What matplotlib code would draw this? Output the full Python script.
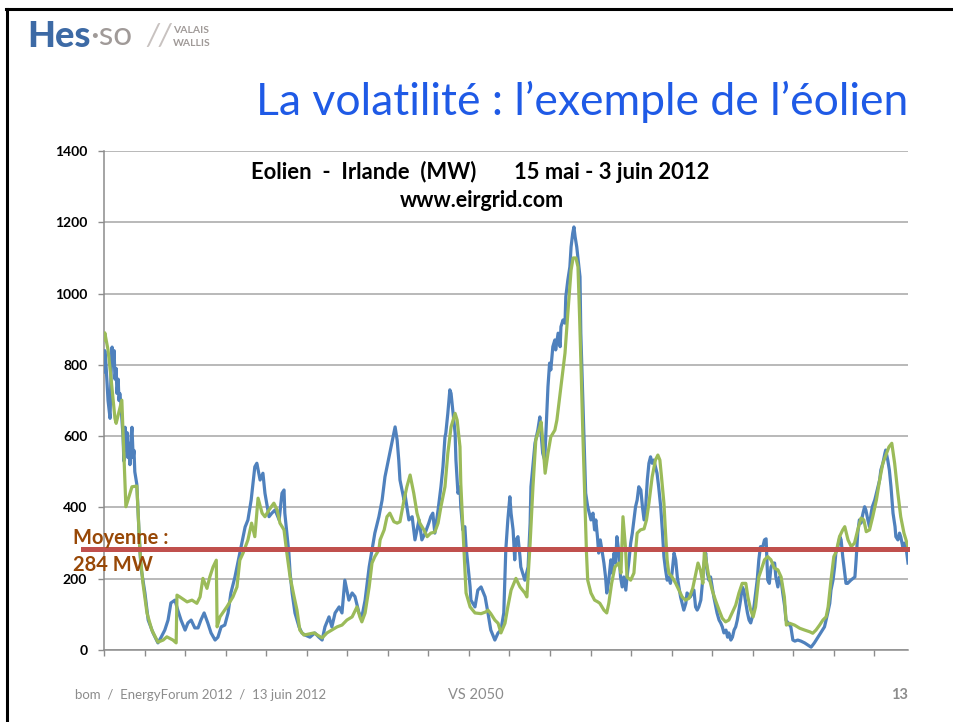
import matplotlib
matplotlib.use("Agg")
import matplotlib.pyplot as plt
from matplotlib.lines import Line2D

plt.rcParams['font.family'] = ['Lato', 'DejaVu Sans']

# production eolienne irlandaise (MW), jours depuis le 15 mai 2012
blue_day = [0.00, 0.02, 0.05, 0.10, 0.15, 0.17, 0.20, 0.22, 0.25, 0.27, 0.30, 0.32, 0.35, 0.37,
            0.39, 0.42, 0.44, 0.47, 0.49, 0.52, 0.54, 0.57, 0.59, 0.62, 0.64, 0.67, 0.69, 0.72,
            0.74, 0.76, 0.81, 0.86, 0.91, 1.01, 1.09, 1.21, 1.33, 1.41, 1.50, 1.58, 1.65, 1.75,
            1.82, 1.90, 2.00, 2.07, 2.15, 2.24, 2.32, 2.39, 2.47, 2.56, 2.64, 2.74, 2.81, 2.89,
            2.98, 3.06, 3.13, 3.23, 3.30, 3.38, 3.48, 3.55, 3.63, 3.72, 3.77, 3.85, 3.92, 3.97,
            4.07, 4.14, 4.22, 4.32, 4.39, 4.44, 4.46, 4.51, 4.56, 4.59, 4.64, 4.71, 4.81, 4.88,
            4.96, 5.08, 5.20, 5.30, 5.38, 5.45, 5.55, 5.62, 5.70, 5.80, 5.87, 5.94, 6.04, 6.12,
            6.19, 6.29, 6.36, 6.44, 6.54, 6.61, 6.68, 6.78, 6.86, 6.93, 7.03, 7.10, 7.18, 7.23,
            7.27, 7.30, 7.40, 7.42, 7.52, 7.60, 7.67, 7.77, 7.84, 7.92, 8.01, 8.06, 8.11, 8.16,
            8.24, 8.31, 8.36, 8.41, 8.43, 8.48, 8.53, 8.56, 8.61, 8.66, 8.68, 8.73, 8.78, 8.80,
            8.85, 8.90, 8.93, 8.98, 9.03, 9.05, 9.15, 9.22, 9.30, 9.40, 9.47, 9.54, 9.64, 9.72,
            9.79, 9.86, 9.91, 9.96, 10.01, 10.04, 10.09, 10.13, 10.16, 10.21, 10.26, 10.28, 10.38,
            10.46, 10.51, 10.53, 10.63, 10.70, 10.75, 10.78, 10.82, 10.87, 10.90, 10.95, 10.99,
            11.02, 11.07, 11.12, 11.14, 11.20, 11.25, 11.27, 11.32, 11.37, 11.39, 11.44, 11.49,
            11.52, 11.56, 11.59, 11.62, 11.66, 11.74, 11.76, 11.81, 11.86, 11.88, 11.93, 12.01,
            12.06, 12.10, 12.13, 12.17, 12.20, 12.24, 12.28, 12.33, 12.37, 12.40, 12.45, 12.50,
            12.53, 12.58, 12.62, 12.65, 12.70, 12.74, 12.78, 12.82, 12.87, 12.90, 12.95, 12.99,
            13.03, 13.07, 13.11, 13.15, 13.19, 13.24, 13.28, 13.32, 13.36, 13.40, 13.44, 13.48,
            13.52, 13.56, 13.60, 13.64, 13.68, 13.73, 13.77, 13.81, 13.85, 13.89, 13.93, 13.97,
            14.01, 14.06, 14.10, 14.14, 14.18, 14.22, 14.26, 14.30, 14.35, 14.38, 14.46, 14.55,
            14.59, 14.63, 14.67, 14.72, 14.75, 14.80, 14.84, 14.88, 14.92, 14.96, 15.00, 15.04,
            15.09, 15.12, 15.17, 15.21, 15.25, 15.29, 15.34, 15.38, 15.41, 15.46, 15.50, 15.54,
            15.58, 15.62, 15.66, 15.70, 15.74, 15.78, 15.83, 15.87, 15.91, 15.95, 15.99, 16.03,
            16.11, 16.15, 16.19, 16.25, 16.29, 16.33, 16.37, 16.41, 16.45, 16.50, 16.54, 16.57,
            16.62, 16.66, 16.70, 16.74, 16.79, 16.82, 16.87, 16.94, 16.99, 17.04, 17.11, 17.19,
            17.28, 17.36, 17.44, 17.48, 17.52, 17.61, 17.68, 17.77, 17.85, 17.90, 17.93, 17.98,
            18.02, 18.05, 18.10, 18.15, 18.18, 18.22, 18.27, 18.30, 18.34, 18.42, 18.52, 18.55,
            18.59, 18.63, 18.67, 18.72, 18.76, 18.79, 18.84, 18.88, 18.92, 18.95, 19.01, 19.09,
            19.13, 19.16, 19.21, 19.26, 19.28, 19.33, 19.37, 19.41, 19.46, 19.51, 19.53, 19.58,
            19.62, 19.65, 19.70, 19.74, 19.78, 19.83]
blue_mw = [780, 840, 800, 700, 650, 760, 850, 800, 840, 760, 790, 720, 760, 700,
           720, 690, 650, 600, 530, 625, 560, 610, 540, 580, 520, 600, 625, 540,
           560, 500, 465, 340, 233, 160, 84, 48, 20, 36, 56, 84, 132, 140,
           112, 84, 56, 76, 84, 62, 62, 84, 104, 76, 48, 28, 36, 65,
           70, 104, 160, 205, 244, 289, 345, 365, 421, 514, 524, 477, 496, 440,
           374, 384, 393, 365, 440, 449, 384, 328, 272, 216, 160, 104, 65, 48,
           42, 36, 48, 36, 28, 65, 93, 65, 104, 121, 104, 196, 140, 160,
           150, 104, 93, 140, 233, 281, 328, 374, 421, 486, 542, 580, 626, 589,
           533, 477, 421, 440, 365, 374, 309, 365, 309, 328, 356, 374, 384, 328,
           393, 458, 514, 598, 608, 664, 730, 720, 664, 608, 533, 440, 458, 402,
           337, 346, 290, 233, 177, 140, 121, 168, 177, 149, 104, 56, 28, 48,
           56, 104, 281, 365, 430, 384, 337, 253, 309, 318, 262, 233, 196,
           233, 356, 458, 580, 617, 654, 608, 552, 533, 608, 739, 805,
           786, 851, 870, 842, 889, 851, 907, 926, 917, 991, 1038, 1075,
           1131, 1169, 1187, 1159, 1131, 1047, 889, 702, 514, 440, 402, 365,
           384, 337, 365, 318, 272, 309, 281, 244, 205, 160, 196, 253,
           216, 272, 244, 318, 272, 205, 177, 205, 168, 205, 253, 300,
           328, 365, 402, 421, 458, 449, 402, 365, 402, 477, 524, 542,
           524, 533, 514, 496, 458, 402, 337, 262, 225, 196, 205, 187,
           216, 272, 253, 205, 177, 149, 131, 112, 131, 160, 149, 168,
           121, 112, 121, 140, 177, 244, 272, 216, 196, 205, 177, 149,
           121, 104, 84, 76, 65, 48, 56, 36, 48, 28, 36, 56,
           65, 84, 112, 140, 177, 168, 131, 104, 84, 76, 93, 121,
           196, 253, 290, 290, 309, 312, 196, 187, 233, 244, 244, 205,
           177, 205, 196, 160, 121, 84, 76, 65, 28, 25, 28, 25,
           20, 14, 8, 14, 20, 36, 48, 65, 104, 131, 168, 196,
           233, 272, 290, 318, 309, 262, 216, 187, 187, 196, 205, 253,
           328, 365, 356, 384, 402, 393, 365, 346, 384, 402, 421, 458,
           477, 505, 524, 552, 561, 533, 505, 458, 384, 346, 318, 309,
           328, 318, 290, 300, 290, 244]

green_day = [0.00, 0.02, 0.10, 0.17, 0.27, 0.30, 0.35, 0.44, 0.54, 0.69, 0.81, 0.89, 0.96, 1.06,
             1.18, 1.33, 1.46, 1.55, 1.70, 1.78, 1.80, 1.87, 2.05, 2.17, 2.29, 2.37, 2.44, 2.54,
             2.61, 2.69, 2.77, 2.79, 2.86, 3.03, 3.18, 3.28, 3.35, 3.43, 3.55, 3.64, 3.72, 3.80,
             3.90, 3.97, 4.07, 4.19, 4.27, 4.34, 4.44, 4.51, 4.59, 4.69, 4.76, 4.83, 4.93, 5.18,
             5.38, 5.50, 5.62, 5.75, 5.87, 5.99, 6.12, 6.24, 6.31, 6.36, 6.44, 6.54, 6.61, 6.68,
             6.78, 6.81, 6.91, 6.98, 7.05, 7.15, 7.23, 7.30, 7.40, 7.47, 7.55, 7.64, 7.72, 7.79,
             7.89, 7.97, 8.06, 8.16, 8.24, 8.31, 8.41, 8.48, 8.56, 8.66, 8.71, 8.78, 8.80, 8.85,
             8.90, 8.93, 9.03, 9.15, 9.30, 9.42, 9.47, 9.54, 9.64, 9.72, 9.79, 9.89, 9.96, 10.04,
             10.16, 10.26, 10.38, 10.43, 10.51, 10.58, 10.65, 10.75, 10.78, 10.82, 10.88, 10.95,
             11.02, 11.12, 11.17, 11.27, 11.37, 11.44, 11.52, 11.57, 11.64, 11.69, 11.73, 11.77,
             11.81, 11.86, 11.90, 11.93, 12.01, 12.10, 12.18, 12.23, 12.33, 12.40, 12.45, 12.52,
             12.60, 12.70, 12.75, 12.80, 12.86, 12.90, 12.99, 13.07, 13.12, 13.15, 13.23, 13.32,
             13.38, 13.44, 13.52, 13.60, 13.66, 13.71, 13.75, 13.81, 13.85, 13.89, 13.93, 14.01,
             14.10, 14.18, 14.26, 14.34, 14.43, 14.52, 14.60, 14.65, 14.71, 14.77, 14.81, 14.86,
             14.92, 15.00, 15.08, 15.17, 15.25, 15.33, 15.41, 15.49, 15.58, 15.66, 15.74, 15.83,
             15.88, 15.95, 16.01, 16.07, 16.15, 16.21, 16.29, 16.37, 16.45, 16.53, 16.62, 16.70,
             16.78, 16.83, 16.91, 17.03, 17.16, 17.28, 17.41, 17.48, 17.56, 17.65, 17.73, 17.81,
             17.86, 17.93, 18.00, 18.06, 18.14, 18.22, 18.27, 18.35, 18.43, 18.51, 18.59, 18.67,
             18.74, 18.80, 18.88, 18.96, 19.05, 19.13, 19.21, 19.30, 19.36, 19.43, 19.50, 19.58,
             19.65, 19.73, 19.83]
green_mw = [870, 890, 842, 767, 650, 636, 659, 701, 402, 458, 460, 272, 188, 104,
            56, 22, 28, 37, 28, 20, 154, 149, 135, 140, 131, 149, 201, 173,
            205, 233, 252, 65, 93, 121, 149, 177, 252, 272, 309, 356, 318, 426,
            384, 374, 393, 412, 393, 356, 337, 272, 205, 149, 112, 56, 42, 48,
            34, 48, 56, 65, 70, 84, 93, 121, 93, 79, 104, 177, 244, 262,
            281, 309, 337, 374, 384, 360, 356, 360, 421, 458, 491, 440, 384, 356,
            337, 318, 328, 331, 356, 402, 458, 552, 626, 664, 645, 570, 468, 346,
            233, 160, 121, 104, 102, 107, 112, 102, 84, 75, 48, 75, 121, 168,
            201, 177, 160, 149, 300, 458, 589, 626, 640, 589, 496, 552,
            598, 617, 645, 739, 833, 945, 1066, 1100, 1100, 1075, 935, 777,
            608, 421, 272, 196, 160, 140, 135, 131, 112, 104, 131, 187,
            233, 244, 216, 374, 290, 205, 196, 216, 290, 328, 337, 340,
            365, 412, 486, 533, 547, 533, 486, 412, 328, 252, 216, 205,
            187, 168, 149, 140, 145, 173, 216, 244, 225, 187, 281, 244,
            205, 168, 140, 112, 89, 79, 84, 104, 126, 160, 187, 187,
            149, 112, 93, 121, 205, 225, 253, 262, 253, 230, 225, 205,
            149, 70, 75, 70, 61, 56, 51, 47, 56, 70, 84, 93,
            121, 196, 262, 276, 318, 337, 346, 309, 290, 300, 337, 370,
            365, 332, 337, 374, 421, 477, 524, 552, 570, 580, 524, 440,
            374, 328, 290]

mean_mw = 284
n_days = 20
y_ticks = [0, 200, 400, 600, 800, 1000, 1200, 1400]

fig = plt.figure(figsize=(9.54, 7.22), dpi=100)
ax = fig.add_axes([0.1090, 0.0997, 0.8428, 0.6911])

ax.plot(blue_day, blue_mw, color='#4F81BD', lw=2.3, solid_joinstyle='round', zorder=3)
ax.plot(green_day, green_mw, color='#9BBB59', lw=2.3, solid_joinstyle='round', zorder=4)
ax.axhline(mean_mw, xmin=-0.026, xmax=0.999, color='#C0504D', lw=3.6, clip_on=False, zorder=5)

ax.set_xlim(0, 19.83)
ax.set_ylim(0, 1400)
ax.set_yticks(y_ticks)
ax.set_yticklabels([str(v) for v in y_ticks], fontsize=10, fontweight='bold')
ax.set_xticks(range(n_days))
ax.set_xticklabels([])
ax.tick_params(axis='both', direction='out', length=4, color='#8C8C8C', width=1)
ax.tick_params(axis='y', pad=8)
ax.grid(axis='y', color='#A6A6A6', lw=1.1)
ax.set_axisbelow(True)
for s in ['top', 'right']:
    ax.spines[s].set_visible(False)
for s in ['left', 'bottom']:
    ax.spines[s].set_color('#8C8C8C')
    ax.spines[s].set_linewidth(1.1)

ax.text(0.468, 0.958, 'Eolien  -  Irlande  (MW)       15 mai - 3 juin 2012', transform=ax.transAxes,
        ha='center', va='center', fontsize=15.8, fontweight='bold')
ax.text(0.470, 0.9, 'www.eirgrid.com', transform=ax.transAxes,
        ha='center', va='center', fontsize=15.5, fontweight='bold')

ax.text(-0.038, 0.2245, 'Moyenne :', transform=ax.transAxes, ha='left', va='center',
        fontsize=14.5, fontweight='bold', color='#984807', zorder=6)
ax.text(-0.038, 0.170, '284 MW', transform=ax.transAxes, ha='left', va='center',
        fontsize=14.5, fontweight='bold', color='#984807', zorder=6)

# titre de la diapo
fig.text(0.952, 0.859, 'La volatilité : l’exemple de l’éolien', ha='right', va='center',
         fontsize=32, color='#1F5AE6')

# logo
fig.text(0.029, 0.950, 'Hes', ha='left', va='center', fontsize=26, fontweight='black', color='#3D6AA5')
fig.text(0.094, 0.950, '·so', ha='left', va='center', fontsize=24, color='#A09A98')
fig.text(0.153, 0.950, '//', ha='left', va='center', fontsize=22, style='italic', color='#C8C2C0')
fig.text(0.181, 0.958, 'VALAIS', ha='left', va='center', fontsize=7.5, fontweight='bold', color='#A09A98')
fig.text(0.181, 0.940, 'WALLIS', ha='left', va='center', fontsize=7.5, fontweight='bold', color='#A09A98')

# pied de page
fig.text(0.079, 0.037, 'bom  /  EnergyForum 2012  /  13 juin 2012', ha='left', va='center',
         fontsize=9.5, color='#8C8C8C')
fig.text(0.470, 0.037, 'VS 2050', ha='left', va='center', fontsize=10.5, color='#8C8C8C')
fig.text(0.952, 0.037, '13', ha='right', va='center', fontsize=10.5, fontweight='bold', color='#8C8C8C')

# cadre noir
fig.add_artist(Line2D([0.006, 1.0], [0.987, 0.987], color='black', lw=2.2))
fig.add_artist(Line2D([0.0075, 0.0075], [0.0, 0.987], color='black', lw=2.2))

fig.savefig('out.png', dpi=100)
